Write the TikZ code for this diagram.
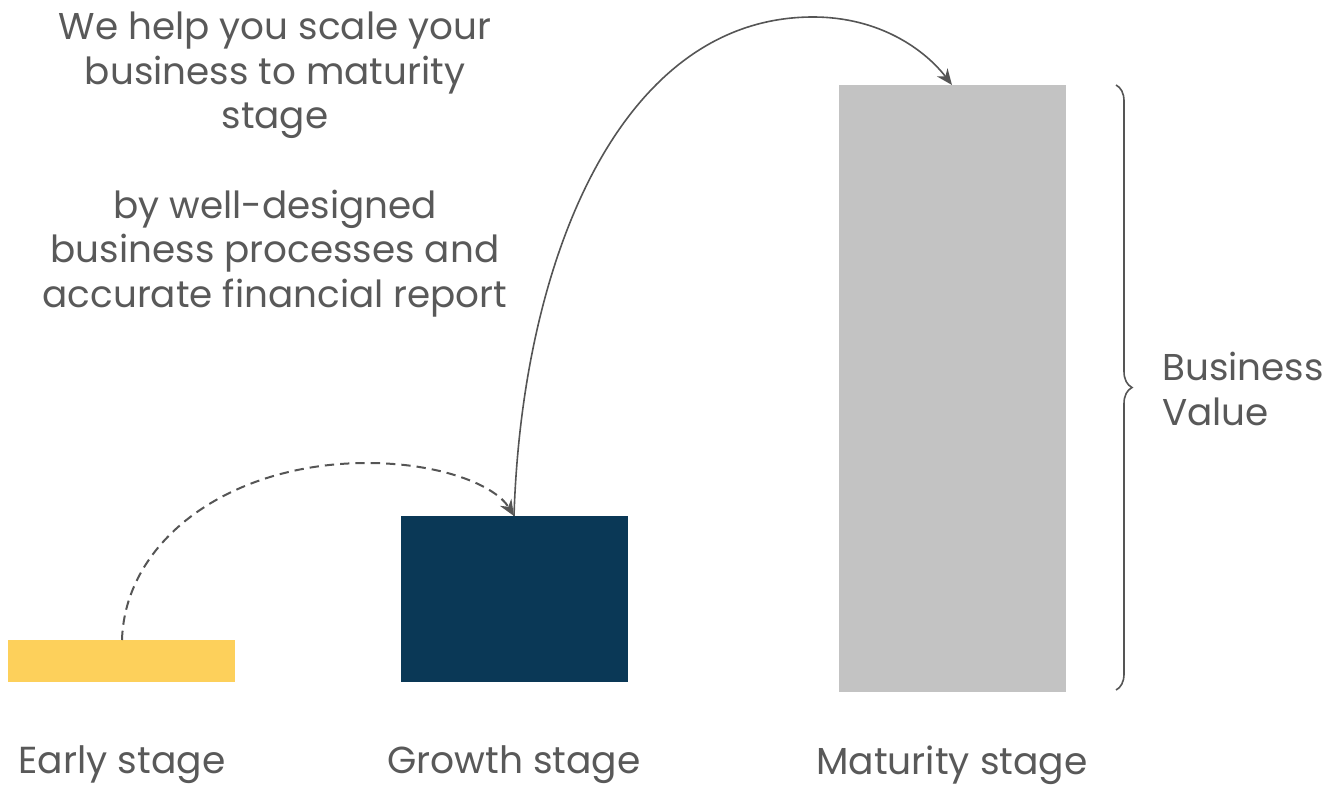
\documentclass[tikz,border=0pt]{standalone}
\usepackage{fontspec}
\setmainfont{Poppins}
\usetikzlibrary{arrows.meta,decorations.pathreplacing}
\definecolor{txt}{HTML}{595959}
\definecolor{barY}{HTML}{FDD05B}
\definecolor{barN}{HTML}{0A3856}
\definecolor{barG}{HTML}{C3C3C3}
\definecolor{ln}{HTML}{555555}
\tikzset{
  lbl/.style={text=txt,font=\fontsize{28.2}{33}\selectfont,inner sep=0pt},
  bigtxt/.style={text=txt,font=\fontsize{28}{33.4}\selectfont,align=center,inner sep=0pt},
  conn/.style={draw=ln,line width=1.2pt,-{Stealth[length=12pt,width=10pt]}},
}
\begin{document}
\begin{tikzpicture}[x=0.75pt,y=-0.75pt]
\useasboundingbox (0,0) rectangle (1335,786);
\fill[barY] (8,640) rectangle (235,682);
\fill[barN] (401,516) rectangle (628,682);
\fill[barG] (839,85) rectangle (1066,692);
\coordinate (ys) at (122,640);
\coordinate (nt) at (514,516);
\coordinate (gt) at (952,85);
\coordinate (pk) at (813,17);
\coordinate (dp) at (367,463);
\draw[conn,line width=1.5pt,dash pattern=on 7pt off 4.5pt] (ys) .. controls (125,540) and (230,463) .. (dp) .. controls (440,463) and (495,485) .. (nt);
\draw[conn] (nt) .. controls (522,260) and (620,17) .. (pk) .. controls (880,17) and (925,50) .. (gt);
\draw[ln,line width=1.2pt,decorate,decoration={brace,amplitude=12pt}] (1116,85) -- (1116,690);
\node[lbl] (e) at (122,765) {Early stage};
\node[lbl] (g) at (514,765) {Growth stage};
\node[lbl] (m) at (952,765) {Maturity stage};
\node[bigtxt,anchor=north] (t) at (275,12) {We help you scale your\\business to maturity\\stage\\[33.4pt]by well-designed\\business processes and\\accurate financial report};
\node[bigtxt,align=left,anchor=west] (bv) at (1162,389) {Business\\Value};
\end{tikzpicture}
\end{document}
